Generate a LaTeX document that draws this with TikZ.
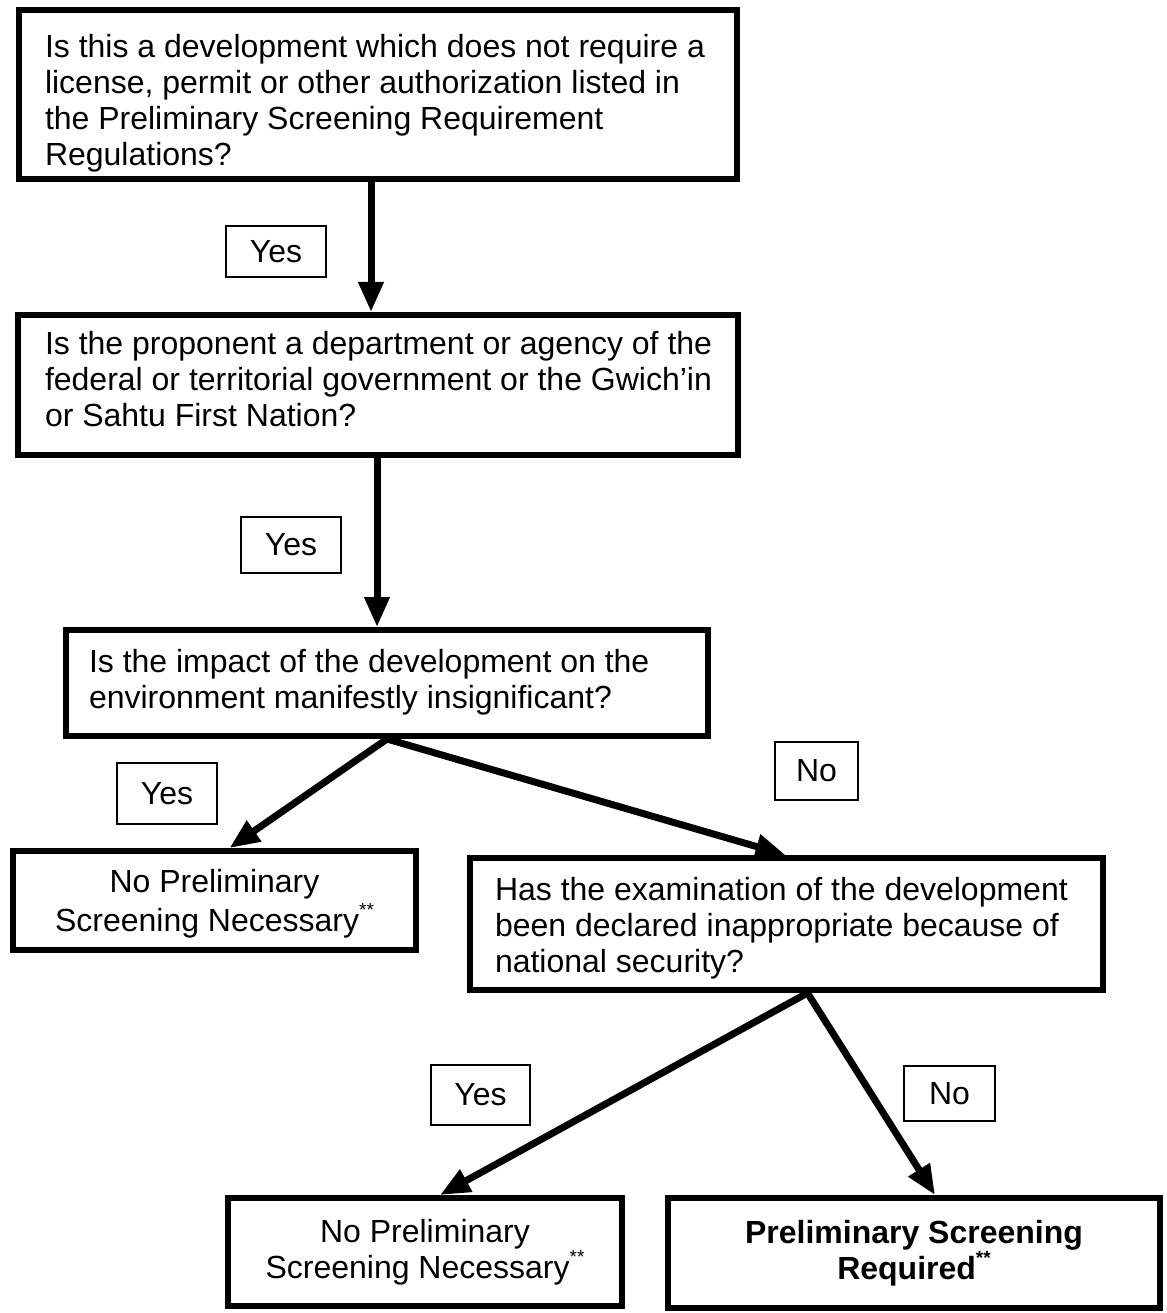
\documentclass[tikz,border=0pt]{standalone}
\usepackage{fontspec}
\setmainfont{Liberation Sans}
\usetikzlibrary{arrows.meta}
\newcommand{\lefttext}[3]{\raisebox{#1}[\height][\depth]{\makebox[#2][l]{\begin{tabular}{@{}l@{}}#3\end{tabular}}}}
\newcommand{\stars}{\raisebox{15pt}{\fontsize{19}{19}\selectfont **}}
\tikzset{
  qbox/.style={draw, line width=6pt, rectangle, inner ysep=0pt, font=\fontsize{32}{36}\selectfont},
  lbl/.style={draw, line width=1.6pt, rectangle, inner sep=0pt, font=\fontsize{32}{36}\selectfont},
  arr/.style={line width=7pt, -{Triangle[length=30pt,width=24pt]}}
}
\begin{document}
\begin{tikzpicture}[x=1pt,y=-1pt]
\useasboundingbox[fill=white] (0,0) rectangle (1166,1313);
% question boxes
\node[qbox, inner xsep=26pt, minimum height=169pt] (b1) at (378,94.5)
  {\lefttext{-10pt}{666pt}{Is this a development which does not require a\\license, permit or other authorization listed in\\the Preliminary Screening Requirement\\Regulations?}};
\node[qbox, inner xsep=27pt, minimum height=140pt] (b2) at (378,385)
  {\lefttext{2pt}{666pt}{Is the proponent a department or agency of the\\federal or territorial government or the Gwich’in\\or Sahtu First Nation?}};
\node[qbox, inner xsep=23pt, minimum height=106pt] (b3) at (387,683)
  {\lefttext{0pt}{596pt}{Is the impact of the development on the\\environment manifestly insignificant?}};
\node[qbox, inner xsep=0pt, minimum width=403pt, minimum height=99pt, align=center] (b4) at (214.5,900.5)
  {\raisebox{-4pt}[\height][\depth]{\begin{tabular}{@{}c@{}}No Preliminary\\Screening Necessary\stars\end{tabular}}};
\node[qbox, inner xsep=25pt, minimum height=132pt] (b5) at (786.5,924)
  {\lefttext{-5pt}{583pt}{Has the examination of the development\\been declared inappropriate because of\\national security?}};
\node[qbox, inner xsep=0pt, minimum width=394pt, minimum height=108pt, align=center] (b6) at (425,1252)
  {No Preliminary\\Screening Necessary\stars};
\node[qbox, inner xsep=0pt, minimum width=492pt, minimum height=110pt, align=center, font=\fontsize{32}{36}\selectfont\bfseries] (b7) at (914,1253)
  {Preliminary Screening\\Required\stars};
% answer labels
\node[lbl, minimum width=100pt, minimum height=51pt] (l1) at (276,251.5) {Yes};
\node[lbl, minimum width=100pt, minimum height=56pt] (l2) at (291,545) {Yes};
\node[lbl, minimum width=100pt, minimum height=61pt] (l3) at (167,793.5) {Yes};
\node[lbl, minimum width=83pt, minimum height=58pt] (l4) at (816.5,771) {No};
\node[lbl, minimum width=99pt, minimum height=60pt] (l5) at (480.5,1095) {Yes};
\node[lbl, minimum width=91pt, minimum height=55pt] (l6) at (949.5,1093.5) {No};
% connectors
\draw[arr] ([xshift=-7pt]b1.south) -- ([xshift=-7pt]b2.north);
\draw[arr] ([xshift=-1pt]b2.south) -- ([xshift=-10pt]b3.north);
\draw[arr] (b3.south) -- ([xshift=15pt]b4.north);
\draw[arr] (b3.south) -- ([xshift=-1pt]b5.north);
\draw[arr] ([xshift=21pt]b5.south) -- ([xshift=15pt]b6.north);
\draw[arr] ([xshift=21pt]b5.south) -- ([xshift=21pt]b7.north);
\end{tikzpicture}
\end{document}
